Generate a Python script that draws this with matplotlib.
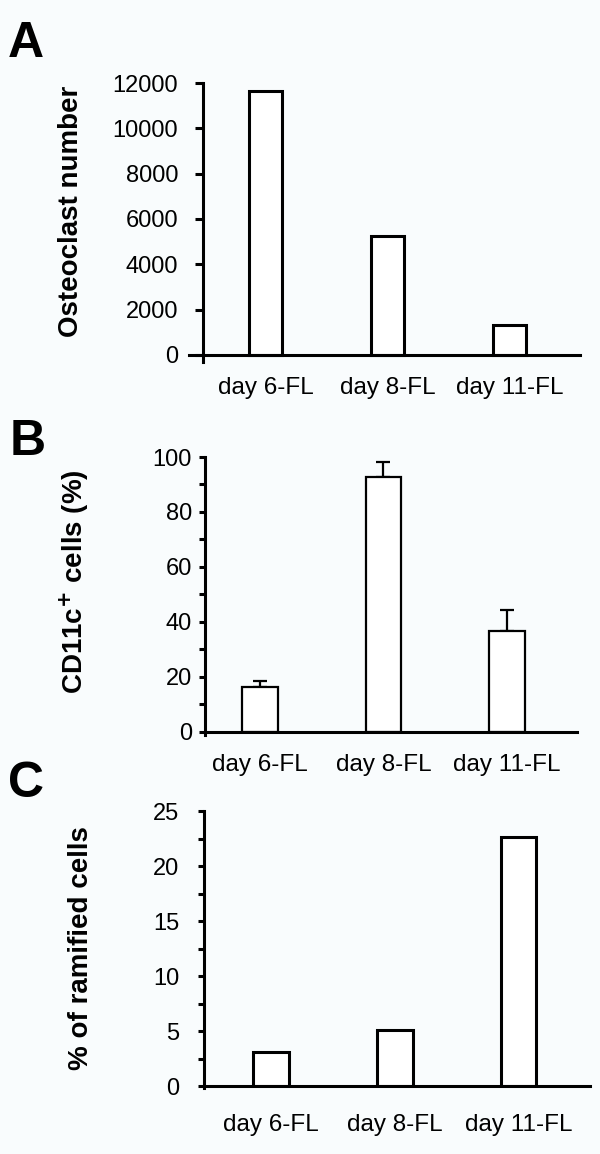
import matplotlib
matplotlib.use("Agg")
import matplotlib.pyplot as plt
from matplotlib.ticker import FixedLocator, MultipleLocator

plt.rcParams['font.family'] = ['Liberation Sans', 'DejaVu Sans']

categories = ["day 6-FL", "day 8-FL", "day 11-FL"]

osteoclast_number = [11650, 5260, 1320]

cd11c_pct = [16.2, 92.7, 36.7]
cd11c_err = [2.2, 5.3, 7.5]

ramified_pct = [3.05, 5.05, 22.6]

W, H = 600, 1154
BG = "#f9fcfd"

fig = plt.figure(figsize=(W / 100, H / 100), dpi=100, facecolor=BG)


def px_axes(left, right, top, bottom):
    ax = fig.add_axes([left / W, 1 - bottom / H, (right - left) / W, (bottom - top) / H])
    ax.set_facecolor(BG)
    return ax


def style(ax, xlim, ylim, spine_x, ylab_pad, xlab_pad, tick_len, lw):
    ax.set_xlim(*xlim)
    ax.set_ylim(*ylim)
    for s in ["top", "right"]:
        ax.spines[s].set_visible(False)
    ax.spines["bottom"].set_position(("data", 0))
    if spine_x is not None:
        ax.spines["left"].set_position(("data", spine_x))
    for s in ["left", "bottom"]:
        ax.spines[s].set_linewidth(lw)
    x = range(len(categories))
    ax.set_xticks(list(x))
    ax.set_xticklabels(categories)
    ax.tick_params(axis="x", length=0, pad=xlab_pad, labelsize=17.5)
    ax.tick_params(axis="y", which="both", direction="out", length=tick_len,
                   width=lw, pad=ylab_pad, labelsize=17)


x = list(range(len(categories)))

# panel A
axA = px_axes(189, 580, 83, 362)
axA.bar(x, osteoclast_number, width=0.27, color="white", edgecolor="black", linewidth=2.2, zorder=1)
style(axA, (-0.627, 2.578), (-309, 12000), -0.512, 12.2, 15.5, 5.8, 2.2)
axA.yaxis.set_major_locator(FixedLocator([0, 2000, 4000, 6000, 8000, 10000, 12000]))
axA.set_ylabel("Osteoclast number", fontsize=20, fontweight="bold", va="center")
axA.yaxis.set_label_coords(70.5 / W, 1 - 211 / H, transform=fig.transFigure)

# panel B
axB = px_axes(205, 577, 457, 735)
axB.bar(x, cd11c_pct, width=0.29, color="white", edgecolor="black", linewidth=1.6, zorder=2)
axB.errorbar(x, cd11c_pct, yerr=[[0] * len(cd11c_err), cd11c_err], fmt="none",
             ecolor="black", elinewidth=1.6, capsize=4.7, capthick=1.6, zorder=1)
style(axB, (-0.445, 2.567), (-1.1, 100), None, 5, 15.5, 4.3, 2.2)
axB.yaxis.set_major_locator(MultipleLocator(20))
axB.yaxis.set_minor_locator(MultipleLocator(10))
axB.set_ylabel(r"CD11c$^{\mathbf{+}}$ cells (%)", fontsize=20, fontweight="bold", va="center")
axB.yaxis.set_label_coords(74.5 / W, 1 - 582 / H, transform=fig.transFigure)

# panel C
axC = px_axes(204, 590, 811, 1088)
axC.bar(x, ramified_pct, width=0.29, color="white", edgecolor="black", linewidth=2.2, zorder=1)
style(axC, (-0.541, 2.578), (-0.18, 25), None, 13.7, 20.5, 4.3, 2.2)
axC.yaxis.set_major_locator(MultipleLocator(5))
axC.yaxis.set_minor_locator(MultipleLocator(2.5))
axC.set_ylabel("% of ramified cells", fontsize=20, fontweight="bold", va="center")
axC.yaxis.set_label_coords(81.5 / W, 1 - 948 / H, transform=fig.transFigure)

# panel letters
for letter, xp, yp in [("A", 8, 57), ("B", 10, 455), ("C", 8, 797)]:
    fig.text(xp / W, 1 - yp / H, letter, fontsize=36, fontweight="bold",
             ha="left", va="baseline")

fig.savefig("out.png", dpi=100, facecolor=BG)
